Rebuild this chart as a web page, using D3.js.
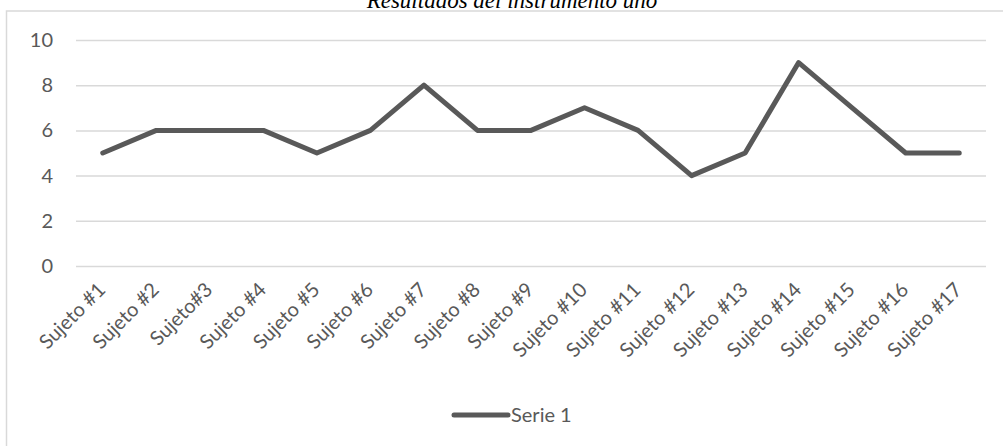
<!DOCTYPE html>
<html>
<head>
<meta charset="utf-8">
<script src="https://cdn.jsdelivr.net/npm/d3@7"></script>
<style>
  html, body { margin: 0; padding: 0; background: #fff; }
  svg { display: block; }
</style>
</head>
<body>
<svg id="chart" width="1003" height="446"></svg>
<script>
// Categories and values for the single series
const subjects = ["Sujeto #1", "Sujeto #2", "Sujeto#3", "Sujeto #4", "Sujeto #5", "Sujeto #6",
  "Sujeto #7", "Sujeto #8", "Sujeto #9", "Sujeto #10", "Sujeto #11", "Sujeto #12",
  "Sujeto #13", "Sujeto #14", "Sujeto #15", "Sujeto #16", "Sujeto #17"];
const serie1 = [5, 6, 6, 6, 5, 6, 8, 6, 6, 7, 6, 4, 5, 9, 7, 5, 5];
const yTicks = [0, 2, 4, 6, 8, 10];
const seriesName = "Serie 1";
const title = "Resultados del instrumento uno";

const svg = d3.select("#chart");
const W = 1003, H = 446;
const plot = { left: 76, right: 986, top: 40, bottom: 266 };
const labelFont = "Lato, 'Open Sans', sans-serif";
const ink = "#595959";

// Chart area frame (extends past the bottom/right edges of the view)
svg.append("rect")
  .attr("x", 6.5).attr("y", 11)
  .attr("width", W).attr("height", H)
  .attr("fill", "#fff").attr("stroke", "#d9d9d9").attr("stroke-width", 1.5);

// Title, sitting just above the frame
svg.append("text")
  .attr("x", 512).attr("y", 8)
  .attr("text-anchor", "middle")
  .attr("font-family", "'Liberation Serif', 'Times New Roman', serif")
  .attr("font-style", "italic")
  .attr("font-size", 23)
  .attr("fill", "#000")
  .text(title);

const x = d3.scaleBand().domain(subjects).range([plot.left, plot.right]);
const y = d3.scaleLinear().domain([0, 10]).range([plot.bottom, plot.top]);

// Horizontal gridlines + value labels
const yAxis = d3.axisLeft(y).tickValues(yTicks).tickSize(-(plot.right - plot.left)).tickPadding(23);
const gy = svg.append("g").attr("transform", `translate(${plot.left},0)`).call(yAxis);
gy.select(".domain").remove();
gy.selectAll(".tick line").attr("stroke", "#d9d9d9").attr("stroke-width", 1.5);
gy.selectAll(".tick text")
  .attr("font-family", labelFont).attr("font-size", 20).attr("fill", ink);

// Category labels, rotated
const xAxis = d3.axisBottom(x).tickSize(0).tickPadding(0);
const gx = svg.append("g").attr("transform", `translate(0,${plot.bottom})`).call(xAxis);
gx.select(".domain").remove();
gx.selectAll(".tick text")
  .attr("font-family", labelFont).attr("font-size", 20).attr("fill", ink)
  .attr("text-anchor", "end")
  .attr("dy", null)
  .attr("transform", "translate(4,25) rotate(-45)");

// Series line
const line = d3.line()
  .x((d, i) => x(subjects[i]) + x.bandwidth() / 2)
  .y(d => y(d));
svg.append("path")
  .datum(serie1)
  .attr("d", line)
  .attr("fill", "none")
  .attr("stroke", ink)
  .attr("stroke-width", 5)
  .attr("stroke-linejoin", "round")
  .attr("stroke-linecap", "round");

// Legend
const lg = svg.append("g").attr("transform", "translate(454,415)");
lg.append("line").attr("x1", 0).attr("x2", 54).attr("y1", 0).attr("y2", 0)
  .attr("stroke", ink).attr("stroke-width", 5).attr("stroke-linecap", "round");
lg.append("text").attr("x", 57).attr("y", 0).attr("dy", "0.35em")
  .attr("font-family", labelFont).attr("font-size", 20).attr("fill", ink)
  .text(seriesName);
</script>
</body>
</html>
